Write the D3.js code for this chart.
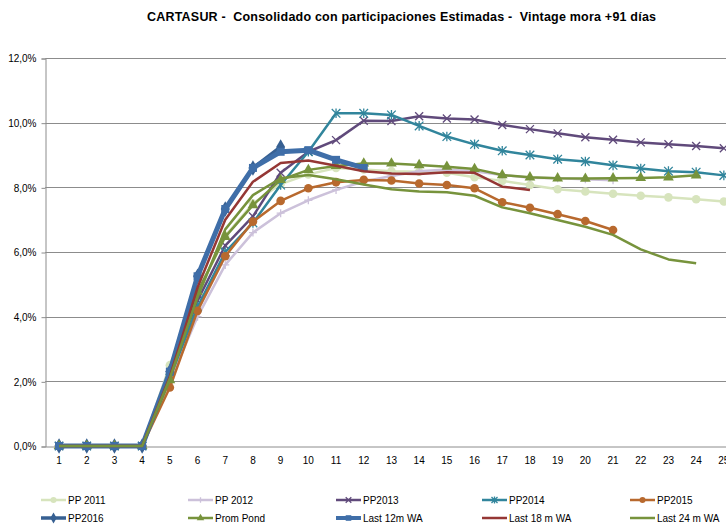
<!DOCTYPE html>
<html>
<head>
<meta charset="utf-8">
<script src="https://cdn.jsdelivr.net/npm/d3@7"></script>
<style>
  html, body { margin: 0; padding: 0; background: #fff; }
  svg { display: block; font-family: Arial, "Liberation Sans", sans-serif; }
</style>
</head>
<body>
<div id="chart"></div>
<script>
// months since origination (chart is cut at the right, so only 1..25 show)
const months = d3.range(1, 26);
const yTicks = [0, 2, 4, 6, 8, 10, 12];

// default rate, %
const pp2011 = [0, 0, 0, 0, 2.5, 4.7, 6.5, 7.5, 8.1, 8.4, 8.6, 8.55, 8.5, 8.48, 8.45, 8.31, 8.2, 8.07, 7.94, 7.87, 7.8, 7.74, 7.69, 7.63, 7.56];
const pp2012 = [0, 0, 0, 0, 2.0, 4.0, 5.6, 6.6, 7.2, 7.6, 7.92, 8.18, 8.35, 8.5, 8.55, 8.5, 8.38, 8.3, 8.28, 8.25, 8.22];
const pp2013 = [0, 0, 0, 0, 2.2, 4.5, 6.2, 7.1, 8.45, 9.1, 9.46, 10.06, 10.05, 10.2, 10.13, 10.1, 9.93, 9.8, 9.67, 9.55, 9.47, 9.39, 9.33, 9.28, 9.21];
const pp2014 = [0, 0, 0, 0, 2.1, 4.3, 6.0, 6.9, 8.07, 9.1, 10.29, 10.29, 10.24, 9.9, 9.57, 9.33, 9.13, 9.0, 8.87, 8.8, 8.68, 8.58, 8.5, 8.47, 8.37];
const pp2015 = [0, 0, 0, 0, 1.81, 4.18, 5.87, 6.94, 7.58, 7.97, 8.16, 8.23, 8.21, 8.12, 8.07, 7.97, 7.54, 7.37, 7.17, 6.96, 6.68];
const pp2016 = [0, 0, 0, 0, 2.3, 5.25, 7.33, 8.6, 9.25];
const promPond = [0, 0, 0, 0, 2.04, 4.77, 6.47, 7.45, 8.23, 8.54, 8.66, 8.74, 8.74, 8.69, 8.64, 8.57, 8.38, 8.31, 8.28, 8.27, 8.28, 8.29, 8.31, 8.37];
const last12 = [0, 0, 0, 0, 2.3, 5.25, 7.33, 8.6, 9.1, 9.15, 8.85, 8.6];
const last18 = [0, 0, 0, 0, 2.15, 4.9, 7.0, 8.17, 8.75, 8.83, 8.67, 8.5, 8.43, 8.41, 8.47, 8.45, 8.02, 7.92];
const last24 = [0, 0, 0, 0, 2.1, 4.6, 6.7, 7.76, 8.28, 8.38, 8.25, 8.09, 7.94, 7.87, 7.85, 7.74, 7.38, 7.2, 6.99, 6.78, 6.53, 6.08, 5.77, 5.65];

const series = [
  { name: 'PP 2011', values: pp2011, color: '#d7e4bd', width: 2.5, marker: 'circle' },
  { name: 'PP 2012', values: pp2012, color: '#ccc1da', width: 2.5, marker: 'plus' },
  { name: 'PP2013', values: pp2013, color: '#604a7b', width: 2.5, marker: 'x' },
  { name: 'PP2014', values: pp2014, color: '#31859c', width: 2.5, marker: 'star' },
  { name: 'PP2015', values: pp2015, color: '#b8692e', width: 2.5, marker: 'circle' },
  { name: 'PP2016', values: pp2016, color: '#376092', width: 3.5, marker: 'diamond' },
  { name: 'Prom Pond', values: promPond, color: '#77933c', width: 2.5, marker: 'triangle' },
  { name: 'Last 12m WA', values: last12, color: '#3f6ea8', width: 5, marker: 'square' },
  { name: 'Last 18 m WA', values: last18, color: '#953735', width: 2.5, marker: null },
  { name: 'Last 24 m WA', values: last24, color: '#77933c', width: 2.5, marker: null }
];

const W = 726, H = 525;
const plot = { left: 45.2, top: 58, bottom: 446, step: 27.7 };

const svg = d3.select('#chart').append('svg')
  .attr('width', W).attr('height', H);

const x = d3.scaleBand()
  .domain(months)
  .range([plot.left, plot.left + months.length * plot.step]);
const cx = d => x(d) + x.bandwidth() / 2;

const y = d3.scaleLinear()
  .domain([0, 12])
  .range([plot.bottom, plot.top]);

// title
svg.append('text')
  .attr('x', 147).attr('y', 21)
  .attr('font-size', 12.5).attr('font-weight', 'bold')
  .attr('textLength', 509).attr('lengthAdjust', 'spacing')
  .style('white-space', 'pre')
  .text('CARTASUR -  Consolidado con participaciones Estimadas -  Vintage mora +91 días');

// gridlines
svg.append('g')
  .selectAll('line')
  .data(yTicks.filter(t => t > 0))
  .join('line')
    .attr('x1', plot.left).attr('x2', W)
    .attr('y1', d => Math.round(y(d)) + 0.5).attr('y2', d => Math.round(y(d)) + 0.5)
    .attr('stroke', '#8c8c8c').attr('stroke-width', 1);

// y axis
const fmt = d => d3.format('.1f')(d).replace('.', ',') + '%';
const yAxis = svg.append('g')
  .attr('transform', `translate(${Math.round(plot.left) + 0.5},0.5)`)
  .call(d3.axisLeft(y).tickValues(yTicks).tickFormat(fmt).tickSize(4).tickPadding(5));
yAxis.select('.domain').attr('stroke', '#8c8c8c');
yAxis.selectAll('.tick line').attr('stroke', '#8c8c8c');
yAxis.selectAll('text').attr('font-size', 10).attr('fill', '#000').attr('font-family', 'Arial, "Liberation Sans", sans-serif');

// x axis
const xAxis = svg.append('g')
  .attr('transform', `translate(0,${Math.round(plot.bottom) + 0.5})`)
  .call(d3.axisBottom(x).tickSize(0).tickPadding(10));
xAxis.select('.domain').attr('stroke', '#8c8c8c');
xAxis.selectAll('text').attr('font-size', 10).attr('fill', '#000').attr('font-family', 'Arial, "Liberation Sans", sans-serif');

// markers
function drawMarker(g, type, color, px, py, s) {
  const k = s || 1;
  if (type === 'circle') {
    g.append('circle').attr('cx', px).attr('cy', py).attr('r', 4.3 * k).attr('fill', color);
  } else if (type === 'triangle') {
    g.append('path').attr('transform', `translate(${px},${py})`)
      .attr('d', d3.symbol(d3.symbolTriangle, 50 * k * k)()).attr('fill', color);
  } else if (type === 'diamond') {
    g.append('path').attr('transform', `translate(${px},${py})`)
      .attr('d', d3.symbol(d3.symbolDiamond, 70 * k * k)()).attr('fill', color);
  } else if (type === 'square') {
    g.append('rect').attr('x', px - 4 * k).attr('y', py - 4 * k)
      .attr('width', 8 * k).attr('height', 8 * k).attr('fill', color);
  } else if (type === 'x') {
    const r = 4 * k;
    g.append('path').attr('d', `M${px - r},${py - r}L${px + r},${py + r}M${px - r},${py + r}L${px + r},${py - r}`)
      .attr('stroke', color).attr('stroke-width', 1.3).attr('fill', 'none');
  } else if (type === 'star') {
    const r = 4.3 * k;
    g.append('path').attr('d', `M${px - r},${py - r}L${px + r},${py + r}M${px - r},${py + r}L${px + r},${py - r}M${px},${py - r - 0.5}L${px},${py + r + 0.5}`)
      .attr('stroke', color).attr('stroke-width', 1.3).attr('fill', 'none');
  } else if (type === 'plus') {
    const r = 4 * k;
    g.append('path').attr('d', `M${px - r},${py}L${px + r},${py}M${px},${py - r}L${px},${py + r}`)
      .attr('stroke', color).attr('stroke-width', 1.3).attr('fill', 'none');
  }
}

const line = d3.line()
  .x((d, i) => cx(months[i]))
  .y(d => y(d));

const plotG = svg.append('g');
series.forEach(s => {
  const g = plotG.append('g');
  g.append('path')
    .attr('d', line(s.values))
    .attr('fill', 'none')
    .attr('stroke', s.color)
    .attr('stroke-width', s.width)
    .attr('stroke-linejoin', 'round');
  if (s.marker) {
    s.values.forEach((v, i) => drawMarker(g, s.marker, s.color, cx(months[i]), y(v)));
  }
});

// legend
const legX = [41, 188, 336, 482, 630];
const legY = [500, 518];
const leg = svg.append('g');
series.forEach((s, i) => {
  const lx = legX[i % 5], ly = legY[Math.floor(i / 5)];
  const g = leg.append('g');
  g.append('line')
    .attr('x1', lx).attr('x2', lx + 25)
    .attr('y1', ly).attr('y2', ly)
    .attr('stroke', s.color).attr('stroke-width', Math.min(s.width, 4));
  if (s.marker) drawMarker(g, s.marker, s.color, lx + 12.5, ly, 0.7);
  g.append('text')
    .attr('x', lx + 27).attr('y', ly + 3.5)
    .attr('font-size', 10)
    .text(s.name);
});
</script>
</body>
</html>
